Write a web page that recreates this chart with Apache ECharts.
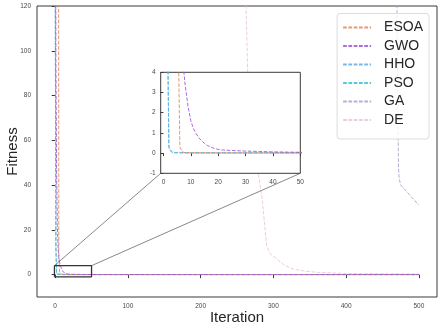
<!DOCTYPE html>
<html><head><meta charset="utf-8">
<script src="https://cdn.jsdelivr.net/npm/echarts@6/dist/echarts.min.js"></script>
<style>html,body{margin:0;padding:0;background:#fff}#c{width:440px;height:330px}</style>
</head><body><div id="c"></div>
<script>
// ---- data: [iteration, fitness] pairs ----
const seriesNames = ['ESOA', 'GWO', 'HHO', 'PSO', 'GA', 'DE'];
const esoa = [[0, 900], [1, 700], [2, 560], [3, 470], [4, 400], [5, 9.5], [6, 0.3], [7, 0.05], [8, 0.02], [20, 0.01], [500, 0.01]];
const gwo = [[0, 300], [1, 95], [2, 45], [3, 22], [4, 12], [5, 7.5], [6, 5.6], [7, 4.6], [8, 3.3], [9, 2.3], [10, 1.6], [11, 1.2], [12, 0.95], [13, 0.75], [14, 0.6], [15, 0.48], [16, 0.38], [17, 0.32], [18, 0.26], [20, 0.18], [22, 0.15], [25, 0.13], [30, 0.1], [35, 0.08], [40, 0.06], [50, 0.04], [100, 0.02], [500, 0.01]];
const hho = [[0, 135], [1, 12.6], [2, 0.3], [3, 0.06], [4, 0.02], [10, 0.01], [500, 0.01]];
const pso = [[0, 140], [1, 11], [2, 0.25], [3, 0.05], [4, 0.02], [10, 0.01], [500, 0.01]];
const ga = [[0, 3000], [100, 1500], [200, 900], [300, 500], [400, 250], [460, 160], [469, 130], [470, 118], [471, 80], [472, 48], [473, 43], [475, 40], [485, 36.5], [500, 31]];
const de = [[0, 4000], [100, 2000], [200, 900], [250, 300], [262, 125], [264.7, 90.6], [270, 70], [278.6, 46.9], [284.7, 33.6], [290.7, 13], [295, 9.5], [305.5, 6.8], [315, 4.2], [328, 2.4], [345, 1.5], [361, 1.0], [400, 0.5], [500, 0.3]];
const seriesData = [esoa, gwo, hho, pso, ga, de];
const seriesColors = ['#e4865a', '#9b52d8', '#62ace2', '#33c3cc', '#a8a2ca', '#e9c3de'];
// drawing order (later = on top)
const drawOrder = [4, 5, 3, 2, 0, 1];

const mainXTicks = [0, 100, 200, 300, 400, 500];
const mainYTicks = [0, 20, 40, 60, 80, 100, 120];
const mainXRange = [-25, 525];
const mainYRange = [-10, 120];
const insetXTicks = [0, 10, 20, 30, 40, 50];
const insetXRange = [-1, 50];
const insetYRange = [-1, 4];
// zoom box drawn from the inset limits
const zoomBox = [[insetXRange[0], insetYRange[0]], [insetXRange[1], insetYRange[0]], [insetXRange[1], insetYRange[1]], [insetXRange[0], insetYRange[1]], [insetXRange[0], insetYRange[0]]];

const FONT = 'Liberation Sans, Arial, sans-serif';
const dash = [3.7, 1.6];
const tickLabel = {fontSize: 6.5, color: '#4a4a4a', fontFamily: FONT};

const chart = echarts.init(document.getElementById('c'), null, {renderer: 'canvas'});

const series = [];
[0, 1].forEach(g => {
  drawOrder.forEach((i, k) => {
    series.push({
      name: seriesNames[i], type: 'line', xAxisIndex: g, yAxisIndex: g, data: seriesData[i],
      symbol: 'none', color: seriesColors[i], zlevel: g,
      lineStyle: {width: 1, type: dash, color: seriesColors[i], opacity: 0.85}, z: 3 + k * 0.01, animation: false
    });
  });
});
series.push({
  name: 'zoom', type: 'line', xAxisIndex: 0, yAxisIndex: 0, data: zoomBox,
  symbol: 'none', lineStyle: {width: 1.3, color: '#333', type: 'solid'}, z: 5, animation: false, silent: true
});

const option = {
  animation: false,
  backgroundColor: '#fff',
  grid: [
    {left: 37, top: 6, width: 400, height: 291, containLabel: false, outerBoundsMode: 'none',
     show: true, borderColor: '#3a3a3a', borderWidth: 1, backgroundColor: '#fff'},
    {left: 160.7, top: 72.3, width: 139.6, height: 101, containLabel: false, outerBoundsMode: 'none',
     show: true, borderColor: '#3a3a3a', borderWidth: 1, backgroundColor: '#fff', zlevel: 1}
  ],
  xAxis: [
    {gridIndex: 0, type: 'value', min: mainXRange[0], max: mainXRange[1],
     axisLine: {show: false}, splitLine: {show: false},
     axisTick: {show: true, inside: false, length: 3.5, customValues: mainXTicks, lineStyle: {color: '#3a3a3a'}},
     axisLabel: {customValues: mainXTicks, margin: 6, ...tickLabel},
     name: 'Iteration', nameLocation: 'middle', nameGap: 13.5, nameMoveOverlap: false,
     nameTextStyle: {fontSize: 15, color: '#262626', fontFamily: FONT}},
    {gridIndex: 1, type: 'value', min: insetXRange[0], max: insetXRange[1], zlevel: 1,
     axisLine: {show: false}, splitLine: {show: false},
     axisTick: {show: true, inside: false, length: 3, customValues: insetXTicks, lineStyle: {color: '#3a3a3a'}},
     axisLabel: {customValues: insetXTicks, margin: 5, ...tickLabel}}
  ],
  yAxis: [
    {gridIndex: 0, type: 'value', min: mainYRange[0], max: mainYRange[1],
     axisLine: {show: false}, splitLine: {show: false},
     axisTick: {show: true, inside: false, length: 3.5, customValues: mainYTicks, lineStyle: {color: '#3a3a3a'}},
     axisLabel: {customValues: mainYTicks, margin: 6, ...tickLabel},
     name: 'Fitness', nameLocation: 'middle', nameGap: 17, nameMoveOverlap: false,
     nameTextStyle: {fontSize: 15, color: '#262626', fontFamily: FONT}},
    {gridIndex: 1, type: 'value', min: insetYRange[0], max: insetYRange[1], interval: 1, zlevel: 1,
     axisLine: {show: false}, splitLine: {show: false},
     axisTick: {show: true, inside: false, length: 3, lineStyle: {color: '#3a3a3a'}},
     axisLabel: {margin: 5, ...tickLabel}}
  ],
  legend: {
    data: seriesNames, orient: 'vertical', right: 11, top: 13.5,
    itemWidth: 28, itemHeight: 14, itemGap: 4.5,
    padding: [7, 6, 12, 5],
    itemStyle: {opacity: 0},
    backgroundColor: 'rgba(255,255,255,0.8)', borderColor: '#dcdcdc', borderWidth: 1, borderRadius: 3,
    textStyle: {fontSize: 14, color: '#262626', fontFamily: FONT, padding: [0, 0, 0, 8]}
  },
  series: series
};
chart.setOption(option);

// connector lines from zoom box corners to inset bottom corners
const p1 = chart.convertToPixel({xAxisIndex: 0, yAxisIndex: 0}, [insetXRange[0], insetYRange[1]]);
const p2 = chart.convertToPixel({xAxisIndex: 0, yAxisIndex: 0}, [insetXRange[1], insetYRange[1]]);
const q1 = chart.convertToPixel({xAxisIndex: 1, yAxisIndex: 1}, [insetXRange[0], insetYRange[0]]);
const q2 = chart.convertToPixel({xAxisIndex: 1, yAxisIndex: 1}, [insetXRange[1], insetYRange[0]]);
chart.setOption({
  graphic: [
    {type: 'line', shape: {x1: p1[0], y1: p1[1], x2: q1[0], y2: q1[1]}, style: {stroke: '#555', lineWidth: 0.7}, z: 4, silent: true},
    {type: 'line', shape: {x1: p2[0], y1: p2[1], x2: q2[0], y2: q2[1]}, style: {stroke: '#555', lineWidth: 0.7}, z: 4, silent: true}
  ]
});
</script></body></html>
